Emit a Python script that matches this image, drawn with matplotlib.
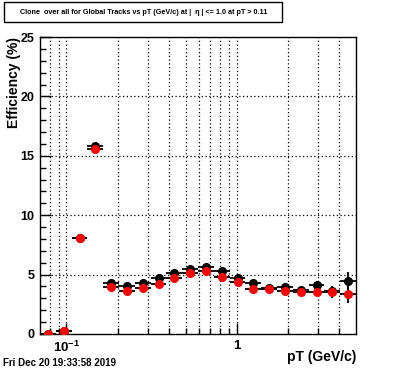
import numpy as np
import matplotlib
matplotlib.use("Agg")
import matplotlib.pyplot as plt
from matplotlib.patches import Rectangle

plt.rcParams['font.family'] = ['Liberation Sans', 'DejaVu Sans']
plt.rcParams['mathtext.fontset'] = 'custom'
plt.rcParams['mathtext.rm'] = 'Liberation Sans:bold'
plt.rcParams['mathtext.bf'] = 'Liberation Sans:bold'

# 20 log-spaced pT bins
pt_low, pt_high, n_bins = 0.07, 5.0, 20
black_vals = [0.0, 0.25, 8.05, 15.8, 4.32, 4.07, 4.29, 4.69, 5.11, 5.47,
              5.64, 5.33, 4.74, 4.27, 3.85, 3.98, 3.73, 4.15, 3.62, 4.46]
black_errs = [0.02, 0.08, 0.15, 0.2, 0.12, 0.12, 0.12, 0.12, 0.12, 0.12,
              0.12, 0.13, 0.14, 0.15, 0.17, 0.2, 0.22, 0.28, 0.4, 0.8]
red_vals = [0.0, 0.25, 8.05, 15.6, 3.96, 3.59, 3.85, 4.21, 4.69, 5.13,
            5.30, 4.80, 4.37, 3.76, 3.79, 3.59, 3.54, 3.56, 3.51, 3.37]
red_errs = [0.02, 0.08, 0.15, 0.2, 0.12, 0.12, 0.12, 0.12, 0.12, 0.12,
            0.12, 0.13, 0.14, 0.15, 0.17, 0.2, 0.22, 0.28, 0.46, 0.78]
y_ticks = [0, 5, 10, 15, 20, 25]
title_text = "Clone  over all for Global Tracks vs pT (GeV/c) at |  \u03b7 | <= 1.0 at pT > 0.11"
date_text = "Fri Dec 20 19:33:58 2019"

edges = np.logspace(np.log10(pt_low), np.log10(pt_high), n_bins + 1)
centers = np.sqrt(edges[:-1] * edges[1:])
xerr = np.vstack([centers - edges[:-1], edges[1:] - centers])

fig = plt.figure(figsize=(3.96, 3.72), dpi=100)
ax = fig.add_axes([40/396, (372-334)/372, 316/396, 297/372])

ax.errorbar(centers, black_vals, xerr=xerr, yerr=black_errs, fmt='o', color='black',
            ms=5.5, elinewidth=1.3, capsize=0, zorder=3)
ax.errorbar(centers, red_vals, xerr=xerr, yerr=red_errs, fmt='o', color='red',
            ecolor='black', ms=5.5, elinewidth=1.3, capsize=0, zorder=4)

ax.set_xscale('log')
ax.set_xlim(pt_low, pt_high)
ax.set_ylim(0, 25)

major_x = [0.1, 1.0]
minor_x = [0.08, 0.09] + [i/10 for i in range(2, 10)] + [2.0, 3.0, 4.0]
ax.set_xticks(major_x)
ax.set_xticklabels([r'$10^{-1}$', '1'])
ax.set_xticks(minor_x, minor=True)
ax.set_xticklabels([], minor=True)
ax.set_yticks(y_ticks)
ax.set_yticklabels([str(v) for v in y_ticks])
ax.set_yticks(np.arange(0, 25.1, 1), minor=True)

ax.tick_params(which='both', direction='in', top=False, right=False)
ax.tick_params(which='major', length=8, width=1)
ax.tick_params(which='minor', length=4.5, width=1)
ax.tick_params(axis='y', labelsize=9, pad=4)
ax.tick_params(axis='x', labelsize=9.5, pad=4)
for lab in ax.get_yticklabels() + ax.get_xticklabels():
    lab.set_fontweight('bold')

grid_style = dict(color='black', linestyle=(0, (1, 2)), linewidth=0.9)
for xv in major_x + minor_x:
    ax.axvline(xv, zorder=1, **grid_style)
for yv in y_ticks[1:-1]:
    ax.axhline(yv, zorder=1, **grid_style)

for s in ax.spines.values():
    s.set_linewidth(1)

fig.text(14/396, 1 - 37/372, "Efficiency (%)", rotation=90, ha='center', va='top',
         fontsize=10, fontweight='bold')
fig.text(356/396, 1 - 357/372, "pT (GeV/c)", ha='right', va='center',
         fontsize=10, fontweight='bold')
fig.text(3/396, 1 - 363/372, date_text, ha='left', va='center', fontsize=7, fontweight='bold')

# title box
fig.patches.append(Rectangle((5/396, 1 - 23/372), 278/396, 20/372, transform=fig.transFigure,
                             facecolor='black', edgecolor='black', lw=0))
fig.patches.append(Rectangle((4/396, 1 - 22/372), 278/396, 20/372, transform=fig.transFigure,
                             facecolor='white', edgecolor='black', lw=1))
fig.text(144/396, 1 - 12/372, title_text, ha='center', va='center', fontsize=5.2,
         fontweight='bold')

fig.savefig('out.png', dpi=100)
